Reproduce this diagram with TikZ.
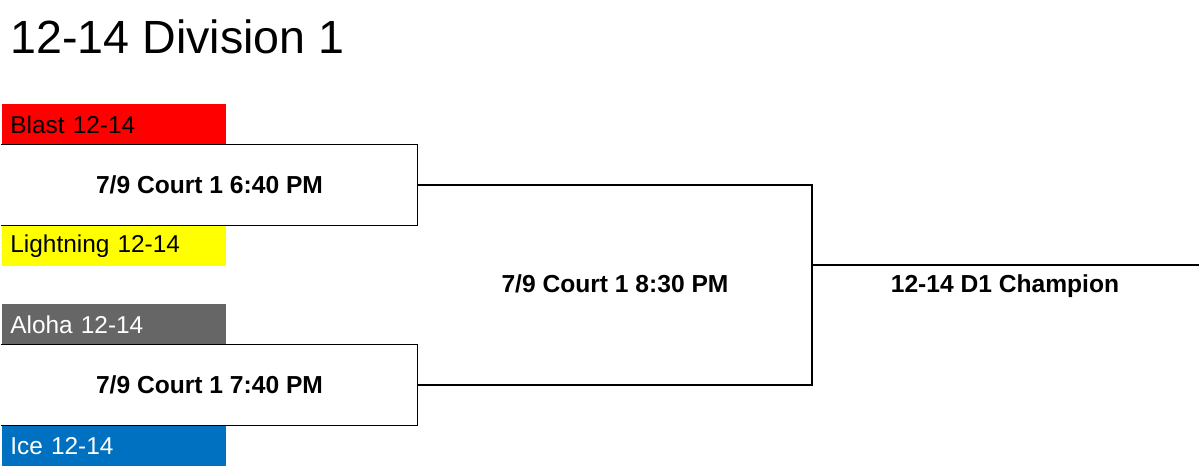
\documentclass[tikz,border=0pt]{standalone}
\usepackage{fontspec}
\setmainfont{Liberation Sans}
\definecolor{blastred}{HTML}{FF0000}
\definecolor{lightyellow}{HTML}{FFFF00}
\definecolor{alohagray}{HTML}{666666}
\definecolor{iceblue}{HTML}{0070C0}
\tikzset{
	team/.style={rectangle, anchor=north west, minimum width=112pt, minimum height=20.5pt,
		inner xsep=4pt, text width=104pt, align=left, font=\fontsize{12.2}{14}\selectfont},
	game/.style={rectangle, minimum width=207.5pt, minimum height=40pt,
		font=\bfseries\fontsize{12.3}{14}\selectfont},
	bracket/.style={line width=0.8pt}
}
\begin{document}
\begin{tikzpicture}[x=0.5pt, y=-0.5pt, line join=miter, line cap=rect]
	\useasboundingbox (0,0) rectangle (1200,467);
	
	\node[anchor=base west, inner sep=0pt, font=\fontsize{23.3}{26}\selectfont] (title) at (10,53) {12-14 Division 1};
	
	% teams
	\node[team, fill=blastred] (blast) at (2,104) {Blast 12-14};
	\node[team, fill=lightyellow] (lightning) at (2,225) {Lightning 12-14};
	\node[team, fill=alohagray, text=white] (aloha) at (2,304) {Aloha 12-14};
	\node[team, fill=iceblue, text=white] (ice) at (2,425) {Ice 12-14};
	
	% first round
	\node[game] (g1) at (209.5,185) {7/9 Court 1 6:40 PM};
	\node[game] (g2) at (209.5,385) {7/9 Court 1 7:40 PM};
	\draw[bracket] (g1.north west) -- (g1.north east) -- (g1.south east) -- (g1.south west);
	\draw[bracket] (g2.north west) -- (g2.north east) -- (g2.south east) -- (g2.south west);
	
	% final
	\coordinate (sf) at (812,265);
	\coordinate (champ) at (1198,265);
	\node[font=\bfseries\fontsize{12.3}{14}\selectfont] (final) at (615,284) {7/9 Court 1 8:30 PM};
	\draw[bracket] (g1.east) -| (sf);
	\draw[bracket] (g2.east) -| (sf);
	\draw[bracket] (sf) -- (champ);
	\node[font=\bfseries\fontsize{12.3}{14}\selectfont] (winner) at (1005,286) {12-14 D1 Champion};
\end{tikzpicture}
\end{document}
